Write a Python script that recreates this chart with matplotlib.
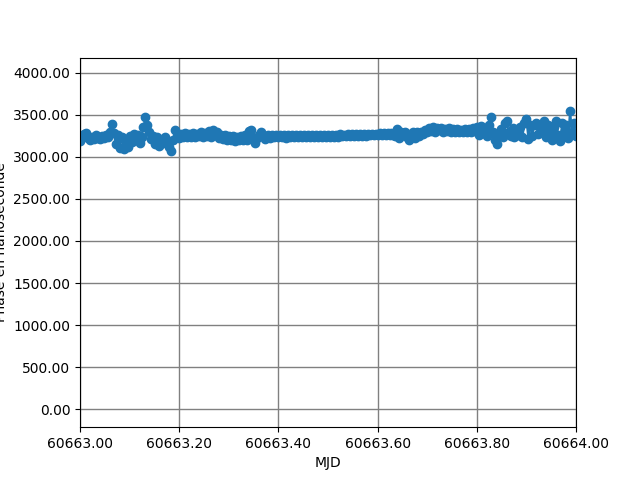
import numpy as np
import matplotlib
matplotlib.use("Agg")
import matplotlib.pyplot as plt
from matplotlib.ticker import FormatStrFormatter

mjd_start = 60663.0
mjd_step = 0.004

phase_a = [3190, 3240, 3270, 3280, 3220, 3200, 3240, 3210, 3255, 3225, 3210, 3250, 3220, 3255, 3230,
           3300, 3390, 3280, 3150, 3260, 3110, 3230, 3097, 3200, 3120]
phase_b = [3250, 3180, 3270, 3200, 3260, 3170, 3240, 3350, 3470, 3380, 3300, 3210,
           3250, 3150, 3230, 3130, 3200, 3160, 3240, 3180, 3120, 3070, 3200, 3320, 3250]
phase_c = [3225, 3270, 3235, 3280, 3230, 3275, 3240, 3285, 3235, 3270, 3245, 3290, 3240, 3280, 3250,
           3305, 3235, 3315, 3255, 3295, 3225, 3265, 3215, 3255, 3200]
phase_d = [3250, 3195, 3245, 3185, 3240, 3195, 3250, 3205, 3260, 3195, 3305, 3320, 3225, 3170,
           3220, 3265, 3290, 3250, 3215, 3245, 3262, 3228, 3255, 3232, 3262]
phase_e = [3230, 3260, 3235, 3258, 3228, 3262, 3238, 3258, 3230, 3262, 3240, 3258, 3232, 3264,
           3236, 3258, 3230, 3262, 3238, 3258, 3232, 3263, 3236, 3258, 3232]
phase_f = [3258, 3238, 3262, 3236, 3262, 3240, 3266, 3242, 3264, 3244, 3268, 3246, 3266, 3248,
           3270, 3250, 3268, 3248, 3272, 3252, 3270, 3254, 3274, 3256, 3276]
phase_g = [3258, 3282, 3256, 3284, 3260, 3280, 3255, 3285, 3265, 3250, 3330, 3220, 3300,
           3260, 3300, 3230, 3195, 3260, 3300, 3220, 3290, 3250, 3300, 3270, 3320]
phase_h = [3295, 3345, 3305, 3350, 3290, 3340, 3315, 3345, 3295, 3335, 3305, 3345, 3290, 3330,
           3300, 3325, 3295, 3320, 3290, 3335, 3300, 3330, 3295, 3345, 3305]
phase_i = [3360, 3260, 3370, 3280, 3330, 3250, 3380, 3470, 3300, 3200, 3150, 3260,
           3330, 3240, 3400, 3430, 3300, 3250, 3340, 3240, 3320, 3260, 3350, 3230, 3400]
phase_j = [3450, 3210, 3380, 3250, 3380, 3400, 3270, 3350, 3300, 3420, 3240, 3380,
           3300, 3205, 3350, 3430, 3260, 3190, 3400, 3280, 3380, 3220, 3545, 3300, 3400, 3250]

phase = np.array(phase_a + phase_b + phase_c + phase_d + phase_e +
                 phase_f + phase_g + phase_h + phase_i + phase_j, dtype=float)
mjd = mjd_start + mjd_step * np.arange(len(phase))

xticks = [60663.0, 60663.2, 60663.4, 60663.6, 60663.8, 60664.0]
yticks = [0, 500, 1000, 1500, 2000, 2500, 3000, 3500, 4000]

fig, ax = plt.subplots(figsize=(6.4, 4.8), dpi=100)
ax.plot(mjd, phase, marker='o', linestyle='-', color='#1f77b4')
ax.set_xlim(60663.0, 60664.0)
ax.set_ylim(-213, 4179)
ax.set_xticks(xticks)
ax.set_yticks(yticks)
ax.xaxis.set_major_formatter(FormatStrFormatter('%.2f'))
ax.yaxis.set_major_formatter(FormatStrFormatter('%.2f'))
ax.grid(True, color='gray', linewidth=1)
ax.set_xlabel('MJD')
ax.set_ylabel('Phase en nanoseconde')
fig.savefig('out.png', dpi=100)
